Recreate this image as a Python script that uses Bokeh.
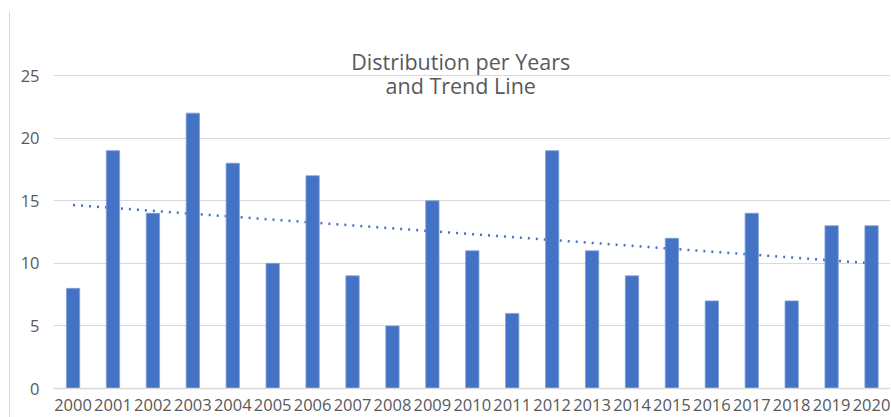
from bokeh.plotting import figure
from bokeh.models import Range1d, FixedTicker, Label, ColumnDataSource
from bokeh.embed import file_html
from bokeh.resources import INLINE

years = list(range(2000, 2021))
counts = [8, 19, 14, 22, 18, 10, 17, 9, 5, 15, 11, 6, 19, 11, 9, 12, 7, 14, 7, 13, 13]
trend_years = [2000, 2020]
trend_values = [14.66, 10.0]
y_ticks = [0, 5, 10, 15, 20, 25]
title_lines = ["Distribution per Years", "and Trend Line"]

BLUE = "#4472C4"
GREY = "#595959"
GRID = "#d9d9d9"
FONT = "Open Sans"

p = figure(width=881, height=405, output_backend="svg", toolbar_location=None,
           x_range=Range1d(1999.51, 2020.5), y_range=Range1d(0, 29.4),
           min_border_left=43, min_border_right=0, min_border_top=8, min_border_bottom=29)
p.outline_line_color = None
p.styles = {"border-left": "1px solid #d9d9d9", "margin-left": "9px", "margin-top": "12px"}

p.line(trend_years, trend_values, line_color=BLUE, line_width=2.5, line_dash="2 6")

src = ColumnDataSource(dict(x=years, top=counts))
p.vbar(x="x", top="top", width=0.333, source=src, fill_color=BLUE, line_color="#7f9fd8", line_width=0.8)

p.xaxis.ticker = FixedTicker(ticks=years)
p.yaxis.ticker = FixedTicker(ticks=y_ticks)
p.xgrid.grid_line_color = None
p.ygrid.grid_line_color = GRID
p.ygrid.grid_line_width = 1.2

for ax in (p.xaxis, p.yaxis):
    ax.major_tick_line_color = None
    ax.minor_tick_line_color = None
    ax.major_label_text_font = FONT
    ax.major_label_text_font_size = "16.5px"
    ax.major_label_text_color = GREY
p.yaxis.axis_line_color = None
p.yaxis.major_label_standoff = 8
p.xaxis.axis_line_color = GRID
p.xaxis.axis_line_width = 1.5
p.xaxis.major_label_standoff = 4

p.add_layout(Label(x=2009.71, y=26.15, text=title_lines[0], text_align="center",
                   text_baseline="alphabetic", text_font=FONT, text_font_size="21.5px",
                   text_color=GREY))
p.add_layout(Label(x=2009.71, y=24.2, text=title_lines[1], text_align="center",
                   text_baseline="alphabetic", text_font=FONT, text_font_size="21.5px",
                   text_color=GREY))

open("out.html", "w").write(file_html(p, INLINE))
